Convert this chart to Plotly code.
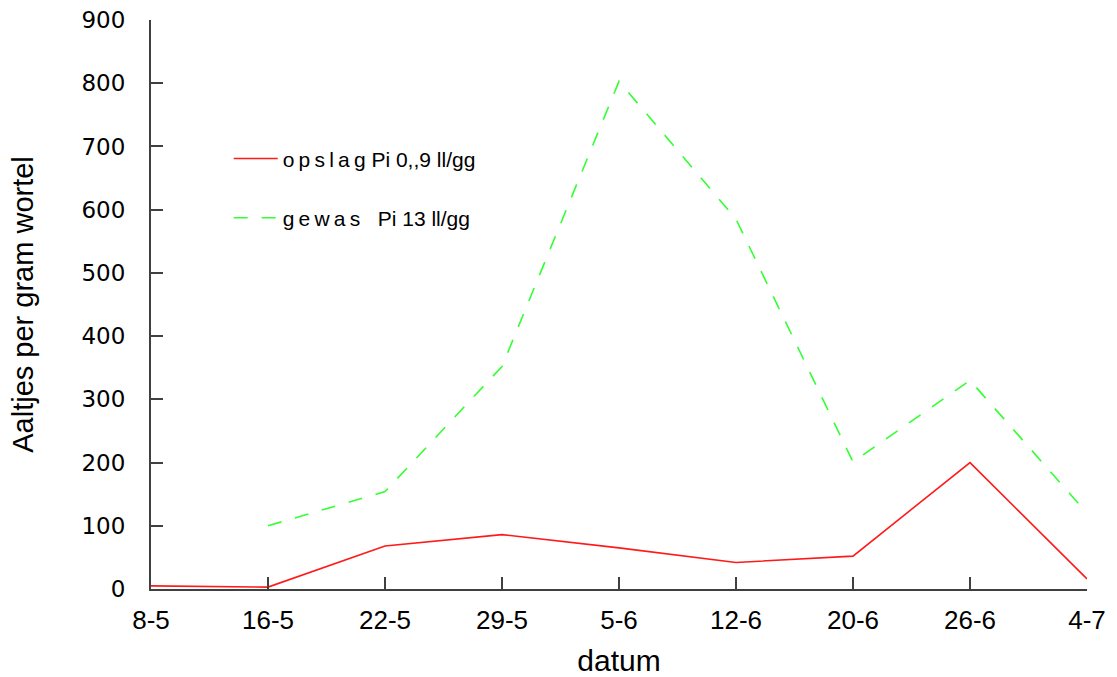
import plotly.graph_objects as go

# sampling dates (day-month)
datum = ["8-5", "16-5", "22-5", "29-5", "5-6", "12-6", "20-6", "26-6", "4-7"]

# nematodes per gram of root
opslag = [5, 3, 68, 86, 65, 42, 52, 200, 16]
gewas = [None, 100, 154, 352, 803, 585, 201, 330, 120]

y_ticks = [0, 100, 200, 300, 400, 500, 600, 700, 800, 900]

TS = "\u2009"  # thin space used for letter tracking in the legend
naam_opslag = TS.join("opslag") + " Pi 0,,9 ll/gg"
naam_gewas = TS.join("gewas") + "   Pi 13 ll/gg"

x_idx = list(range(len(datum)))

fig = go.Figure()
fig.add_trace(go.Scatter(
    x=x_idx, y=opslag, mode="lines", name=naam_opslag,
    line=dict(color="#ff1a1a", width=1.6), legendgroup="a",
))
fig.add_trace(go.Scatter(
    x=x_idx, y=gewas, mode="lines", name=naam_gewas,
    line=dict(color="#33ff33", width=1.6, dash="14px,14px"), legendgroup="b",
))

fig.update_layout(
    width=1117, height=677,
    margin=dict(l=151, r=30, t=20, b=88),
    paper_bgcolor="white", plot_bgcolor="white",
    font=dict(family="Liberation Sans, Arial, sans-serif", color="black"),
    showlegend=True,
    legend=dict(
        x=0.083, y=0.792, xanchor="left", yanchor="top",
        bgcolor="rgba(0,0,0,0)", borderwidth=0,
        font=dict(size=21, family="Liberation Sans, Arial, sans-serif"),
        tracegroupgap=29, itemwidth=44,
    ),
    xaxis=dict(
        tickmode="array", tickvals=x_idx, ticktext=datum,
        range=[0, len(datum) - 1], automargin=False,
        showgrid=False, zeroline=False,
        showline=True, linecolor="#404040", linewidth=2,
        ticks="inside", ticklen=12, tickwidth=2, tickcolor="#404040",
        ticklabelstandoff=7,
        tickfont=dict(size=26, family="Liberation Sans, Arial, sans-serif"),
        title=dict(text="datum", font=dict(size=30), standoff=18),
    ),
    yaxis=dict(
        range=[0, 900], tickmode="array", tickvals=y_ticks, automargin=False,
        showgrid=False, zeroline=False,
        showline=True, linecolor="#404040", linewidth=2,
        ticks="inside", ticklen=12, tickwidth=2, tickcolor="#404040",
        ticklabelstandoff=19,
        tickfont=dict(size=23, family="DejaVu Sans, sans-serif"),
        title=dict(text="Aaltjes per gram wortel", font=dict(size=29), standoff=39),
    ),
)

fig.write_html("out.html")
